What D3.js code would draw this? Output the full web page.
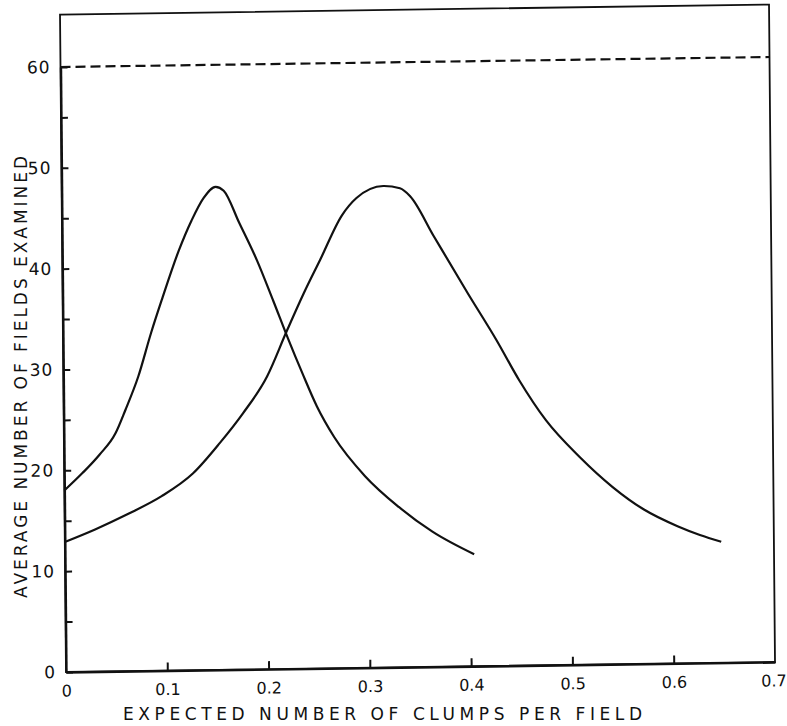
<!DOCTYPE html>
<html>
<head>
<meta charset="utf-8">
<script src="https://cdn.jsdelivr.net/npm/d3@7"></script>
<style>
  body { margin: 0; background: #fff; }
  text { font-family: "DejaVu Sans", sans-serif; fill: #111; }
</style>
</head>
<body>
<div class="myChart"></div>
<script>
// values
const xTicks = [0, 0.1, 0.2, 0.3, 0.4, 0.5, 0.6, 0.7];
const xTickLabels = ["0", "0.1", "0.2", "0.3", "0.4", "0.5", "0.6", "0.7"];
const yTicks = [0, 10, 20, 30, 40, 50, 60];
const yMinorTicks = [5, 15, 25, 35, 45, 55];
const limitLine = 60;

const leftX = [0, 0.018, 0.035, 0.051, 0.061, 0.074, 0.087, 0.098, 0.115, 0.128, 0.14, 0.152,
               0.16, 0.175, 0.192, 0.208, 0.222, 0.236, 0.25, 0.267, 0.297, 0.33, 0.363, 0.404];
const leftY = [18.0, 19.7, 21.5, 23.6, 25.9, 29.2, 33.5, 36.8, 41.6, 44.6, 46.8, 47.9,
               47.5, 44.3, 40.6, 36.5, 32.8, 29.3, 26.0, 22.9, 19.0, 15.9, 13.4, 11.1];

const rightX = [0, 0.03, 0.063, 0.096, 0.127, 0.154, 0.177, 0.201, 0.221, 0.238, 0.2545, 0.2765,
                0.291, 0.3176, 0.334, 0.344, 0.367, 0.4, 0.428, 0.45, 0.476, 0.509, 0.541,
                0.572, 0.605, 0.627, 0.648];
const rightY = [12.9, 14.1, 15.6, 17.3, 19.5, 22.5, 25.4, 29.0, 33.5, 37.2, 40.5, 44.9,
                46.6, 47.75, 47.5, 46.7, 42.7, 37.0, 32.3, 28.3, 24.3, 20.6, 17.6,
                15.3, 13.6, 12.7, 12.0];

const width = 787, height = 726;
const x0 = 66, x1 = 775, yBottom = 672, y60 = 67;

const svg = d3.select(".myChart").append("svg")
    .attr("width", width)
    .attr("height", height);

const x = d3.scaleLinear().domain([0, 0.7]).range([x0, x1]);
const y = d3.scaleLinear().domain([0, 60]).range([yBottom, y60]);

// the scan is slightly sheared, so the plot gets the same small skew
const g = svg.append("g")
    .attr("transform", `translate(${x0},${yBottom}) matrix(1,-0.0141,0.0091,1,0,0) translate(${-x0},${-yBottom})`);

// frame
g.append("rect")
    .attr("x", x(0)).attr("y", y(65.2))
    .attr("width", x(0.7) - x(0)).attr("height", y(0) - y(65.2))
    .attr("fill", "none").attr("stroke", "#111").attr("stroke-width", 1.8);

// bottom axis, ticks pointing in
const xAxis = g.append("g")
    .attr("transform", `translate(0,${yBottom})`)
    .call(d3.axisBottom(x).tickValues(xTicks).tickSizeInner(-8).tickSizeOuter(0)
      .tickPadding(13).tickFormat((d, i) => xTickLabels[i]));
xAxis.select(".domain").attr("stroke", "#111").attr("stroke-width", 2.4);
xAxis.selectAll(".tick line").attr("stroke", "#111").attr("stroke-width", 2);
xAxis.selectAll(".tick text").attr("font-size", 16).attr("fill", "#111");
xAxis.selectAll(".tick").filter(d => d === 0 || d === 0.7).select("line").remove();
xAxis.selectAll(".tick").filter(d => d === 0.7).select("text")
    .attr("text-anchor", "end").attr("x", 11);

// left axis, ticks every 5 pointing in
const yAxis = g.append("g")
    .attr("transform", `translate(${x0},0)`)
    .call(d3.axisLeft(y).tickValues(yTicks.concat(yMinorTicks)).tickSizeInner(-7).tickSizeOuter(0)
      .tickPadding(10).tickFormat(d => yTicks.includes(d) ? d : ""));
yAxis.select(".domain").attr("stroke", "#111").attr("stroke-width", 2.4);
yAxis.selectAll(".tick line").attr("stroke", "#111").attr("stroke-width", 2);
yAxis.selectAll(".tick text").attr("font-size", 17).attr("letter-spacing", 1).attr("fill", "#111");

// dashed line at 60
g.append("line")
    .attr("x1", x(0)).attr("x2", x(0.7))
    .attr("y1", y(limitLine)).attr("y2", y(limitLine))
    .attr("stroke", "#111").attr("stroke-width", 2.2)
    .attr("stroke-dasharray", "10,5");

// curves
const line = d3.line()
    .x(d => x(d[0])).y(d => y(d[1]))
    .curve(d3.curveMonotoneX);

[[leftX, leftY], [rightX, rightY]].forEach(([xs, ys]) => {
  g.append("path")
      .datum(xs.map((v, i) => [v, ys[i]]))
      .attr("d", line)
      .attr("fill", "none")
      .attr("stroke", "#111")
      .attr("stroke-width", 2.2);
});

// axis titles
svg.append("text")
    .attr("x", 123).attr("y", 720)
    .attr("font-size", 17)
    .attr("textLength", 519).attr("lengthAdjust", "spacing")
    .text("EXPECTED NUMBER OF CLUMPS PER FIELD");

svg.append("text")
    .attr("transform", "translate(27,598) rotate(-90)")
    .attr("font-size", 17)
    .attr("textLength", 442).attr("lengthAdjust", "spacing")
    .text("AVERAGE NUMBER OF FIELDS EXAMINED");
</script>
</body>
</html>
